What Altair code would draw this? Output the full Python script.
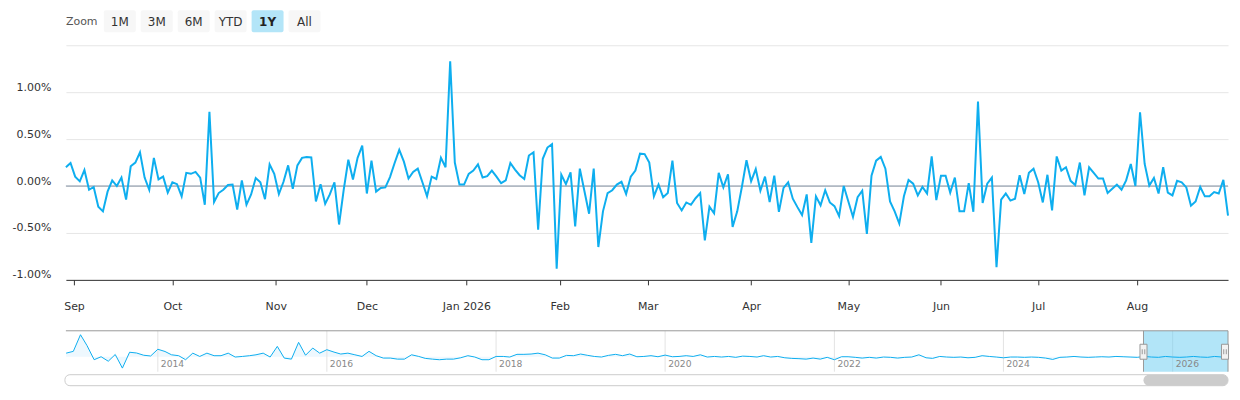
import json
import altair as alt
import pandas as pd

# ---------------- data ----------------
# daily % change, one value per trading day (28 Aug 2025 .. 28 Aug 2026)
values = [
    0.20, 0.245, 0.10, 0.05, 0.17, -0.04, -0.01, -0.22, -0.27, -0.06,
    0.06, 0.00, 0.09, -0.145, 0.21, 0.25, 0.36, 0.09, -0.04, 0.30,
    0.07, 0.10, -0.07, 0.04, 0.02, -0.11, 0.14, 0.13, 0.15, 0.09,
    -0.20, 0.79, -0.17, -0.075, -0.04, 0.01, 0.015, -0.25, 0.06, -0.20,
    -0.09, 0.085, 0.04, -0.14, 0.23, 0.13, -0.085, 0.045, 0.22, -0.03,
    0.22, 0.30, 0.31, 0.305, -0.165, 0.02, -0.19, -0.09, 0.04, -0.41,
    -0.04, 0.28, 0.07, 0.30, 0.43, -0.08, 0.27, -0.06, -0.02, -0.015,
    0.095, 0.245, 0.385, 0.26, 0.08, 0.15, 0.185, 0.04, -0.11, 0.10,
    0.075, 0.30, 0.20, 1.33, 0.25, 0.015, 0.015, 0.13, 0.165, 0.23,
    0.09, 0.105, 0.165, 0.10, 0.03, 0.06, 0.245, 0.175, 0.115, 0.075,
    0.325, 0.36, -0.465, 0.29, 0.41, 0.445, -0.88, 0.12, 0.02, 0.145,
    -0.43, 0.185, -0.055, -0.295, 0.185, -0.65, -0.27, -0.075, -0.045, 0.015,
    0.045, -0.085, 0.10, 0.165, 0.345, 0.34, 0.25, -0.11, 0.015, -0.12,
    -0.075, 0.27, -0.18, -0.26, -0.175, -0.20, -0.13, -0.075, -0.58, -0.22,
    -0.29, 0.14, -0.015, 0.125, -0.435, -0.27, -0.01, 0.275, 0.05, 0.18,
    -0.05, 0.10, -0.17, 0.11, -0.275, -0.02, 0.04, -0.135, -0.225, -0.31,
    -0.09, -0.605, -0.11, -0.205, -0.045, -0.175, -0.215, -0.32, 0.0, -0.165,
    -0.33, -0.12, -0.05, -0.51, 0.11, 0.27, 0.31, 0.185, -0.165, -0.27,
    -0.40, -0.11, 0.065, 0.025, -0.10, -0.01, -0.08, 0.315, -0.15, 0.11,
    0.11, -0.07, 0.09, -0.27, -0.27, 0.03, -0.275, 0.90, -0.18, 0.025,
    0.09, -0.865, -0.145, -0.08, -0.155, -0.135, 0.115, -0.085, 0.14, 0.185,
    0.04, -0.175, 0.12, -0.26, 0.315, 0.165, 0.20, 0.055, 0.01, 0.25,
    -0.10, 0.20, 0.14, 0.08, 0.08, -0.075, -0.03, 0.015, -0.04, 0.06,
    0.235, 0.0, 0.785, 0.235, 0.005, 0.085, -0.08, 0.20, -0.07, -0.10,
    0.055, 0.04, -0.015, -0.21, -0.165, -0.01, -0.11, -0.11, -0.065, -0.08,
    0.065, -0.315,
]

# month ticks on the ordinal (trading-day) axis
month_ticks = [1.75, 23, 45.33, 65, 86.5, 106.67, 125.67, 148, 169, 189, 210, 231.33]
month_labels = ["Sep", "Oct", "Nov", "Dec", "Jan 2026", "Feb", "Mar", "Apr",
                "May", "Jun", "Jul", "Aug"]
y_ticks = [-1.0, -0.5, 0.0, 0.5, 1.0, 1.5]

# navigator: monthly values Dec 2012 .. Aug 2026, plus last day
nav_values = [
    0.24, 0.36, 1.47, 0.75, -0.2, 0.0, -0.3, 0.15, -0.76, 0.3,
    0.25, 0.1, 0.05, 0.5, 0.35, 0.13, 0.07, -0.2, 0.24, 0.02,
    0.24, 0.07, 0.07, 0.24, -0.02, 0.02, 0.07, 0.13, 0.24, -0.02,
    0.69, -0.09, -0.16, 0.96, 0.1, 0.58, 0.24, 0.47, 0.31, 0.18,
    0.24, 0.13, 0.02, 0.36, 0.07, -0.09, -0.09, -0.16, -0.16, 0.13,
    0.02, -0.11, -0.16, -0.2, -0.16, -0.16, -0.07, 0.07, -0.02, -0.2,
    -0.2, 0.02, 0.02, -0.02, 0.16, 0.16, 0.18, 0.24, 0.13, -0.09,
    -0.09, 0.09, 0.07, 0.18, 0.09, 0.02, -0.02, 0.09, 0.16, 0.07,
    0.18, 0.0, 0.02, 0.07, 0.0, 0.11, 0.0, 0.02, 0.07, 0.02,
    0.13, -0.02, 0.02, -0.02, 0.02, -0.04, 0.04, 0.02, -0.02, 0.07,
    -0.02, 0.02, -0.07, -0.11, -0.13, -0.16, -0.09, -0.16, -0.04, -0.2,
    0.0, 0.0, -0.04, -0.09, -0.04, -0.09, -0.02, -0.04, -0.09, -0.04,
    -0.02, 0.13, -0.07, -0.11, 0.02, -0.02, -0.04, -0.02, -0.07, -0.04,
    0.07, 0.02, -0.02, -0.07, -0.02, -0.02, -0.04, -0.02, -0.04, -0.09,
    -0.18, -0.04, -0.02, 0.02, -0.02, -0.04, -0.02, 0.0, -0.02, 0.02,
    0.0, -0.02, -0.04, 0.02, -0.02, -0.04, 0.02, -0.02, -0.04, -0.02,
    0.02, -0.02, -0.04, 0.02, -0.02,
    -0.02,
]
nav_dates = list(pd.date_range("2012-12-01", periods=165, freq="MS")) + [pd.Timestamp("2026-08-28")]
nav_years = [2014, 2016, 2018, 2020, 2022, 2024, 2026]
sel_start = "2025-08-28"
sel_end = "2026-08-28"

buttons = ["1M", "3M", "6M", "YTD", "1Y", "All"]
selected_button = "1Y"

# ---------------- styling ----------------
FONT = "DejaVu Sans"
LINE = "#0eaeef"
W = 1164
H = 235
NAV_H = 41

df = pd.DataFrame({"i": list(range(len(values))), "v": values})

xs = alt.Scale(domain=[0, len(values) - 1], nice=False, zero=False)
ys = alt.Scale(domain=[-1.0, 1.5], nice=False, zero=False)

x_label_expr = "{}[indexof({}, datum.value)]".format(json.dumps(month_labels), json.dumps(month_ticks))
y_label_expr = ("datum.value > 1.4 ? '' : (datum.value < 0 ? '-' : '') + "
                "format(abs(datum.value), '.2f') + '%'")

zero_rule = alt.Chart(pd.DataFrame({"z": [0.0]})).mark_rule(
    color="#7f8fa0", strokeWidth=1
).encode(y=alt.Y("z:Q", scale=ys))

line = alt.Chart(df).mark_line(color=LINE, strokeWidth=2).encode(
    x=alt.X("i:Q", scale=xs, title=None, axis=alt.Axis(
        values=month_ticks, labelExpr=x_label_expr, grid=False,
        domainColor="#333333", tickColor="#333333", tickSize=5,
        labelColor="#333333", labelFont=FONT, labelFontSize=11,
        labelPadding=22, labelBaseline="middle", labelFlush=False,
        labelOverlap=False)),
    y=alt.Y("v:Q", scale=ys, title=None, axis=alt.Axis(
        values=y_ticks, labelExpr=y_label_expr, grid=True, gridColor="#e6e6e6",
        domain=False, ticks=False, tickSize=0, labelPadding=15, labelOffset=-5,
        labelBaseline="middle", labelColor="#333333", labelFont=FONT,
        labelFontSize=11, labelOverlap=False)),
)

# range selector
btn_df = pd.DataFrame({"lab": buttons, "k": list(range(len(buttons)))})
btn_base = alt.Chart(btn_df).transform_calculate(
    bx="38 + 37 * datum.k", bx2="38 + 37 * datum.k + 32", bc="38 + 37 * datum.k + 16"
)
btn_rect = btn_base.mark_rect(cornerRadius=2).encode(
    x=alt.X("bx:Q", scale=None, axis=None),
    x2="bx2:Q",
    y=alt.value(-35), y2=alt.value(-13),
    color=alt.condition(alt.datum.lab == selected_button, alt.value("#b3e5f8"), alt.value("#f7f7f7")),
)
btn_text = btn_base.transform_filter(alt.datum.lab != selected_button).mark_text(
    font=FONT, fontSize=12, color="#333333", align="center", baseline="middle"
).encode(x=alt.X("bc:Q", scale=None, axis=None), y=alt.value(-23.5), text="lab:N")
btn_text_sel = btn_base.transform_filter(alt.datum.lab == selected_button).mark_text(
    font=FONT, fontSize=12, color="#222222", fontWeight="bold", align="center", baseline="middle"
).encode(x=alt.X("bc:Q", scale=None, axis=None), y=alt.value(-23.5), text="lab:N")
zoom_lbl = alt.Chart(pd.DataFrame({"t": ["Zoom"]})).mark_text(
    font=FONT, fontSize=11, color="#555555", align="left", baseline="middle"
).encode(x=alt.value(0), y=alt.value(-23.5), text="t:N")

anchor = alt.Chart(pd.DataFrame({"a": [0]})).mark_rect(opacity=0).encode(
    x=alt.value(-58), x2=alt.value(-57), y=alt.value(-37), y2=alt.value(-36)
)

top = alt.layer(anchor, zero_rule, line, btn_rect, btn_text, btn_text_sel, zoom_lbl).properties(
    width=W, height=H
)

# ---------------- navigator ----------------
nav_df = pd.DataFrame({"d": nav_dates, "v": nav_values})
nxs = alt.Scale(domain=[alt.DateTime(year=2012, month=11, date=30),
                        alt.DateTime(year=2026, month=8, date=28)], nice=False)
nys = alt.Scale(domain=[-1.0, 1.733], nice=False, zero=False)

yr_df = pd.DataFrame({"d": [pd.Timestamp(f"{y}-01-01") for y in nav_years],
                      "t": [str(y) for y in nav_years]})
sel_df = pd.DataFrame({"s": [pd.Timestamp(sel_start)], "e": [pd.Timestamp(sel_end)]})

nav_area = alt.Chart(nav_df).mark_area(color="#eef8fe").encode(
    x=alt.X("d:T", scale=nxs, axis=None), y=alt.Y("v:Q", scale=nys, axis=None),
    y2=alt.value(NAV_H),
)
nav_grid = alt.Chart(yr_df).mark_rule(color="#e3e3e3", strokeWidth=1).encode(
    x=alt.X("d:T", scale=nxs, axis=None), y=alt.value(0), y2=alt.value(NAV_H)
)
nav_sel = alt.Chart(sel_df).mark_rect(color="#66ccf2", opacity=0.5).encode(
    x=alt.X("s:T", scale=nxs, axis=None), x2="e:T", y=alt.value(0), y2=alt.value(NAV_H)
)
nav_line = alt.Chart(nav_df).mark_line(color=LINE, strokeWidth=1).encode(
    x=alt.X("d:T", scale=nxs, axis=None), y=alt.Y("v:Q", scale=nys, axis=None)
)
nav_lbl = alt.Chart(yr_df).mark_text(
    font=FONT, fontSize=9.2, color="#888888", align="left", baseline="middle", dx=3
).encode(x=alt.X("d:T", scale=nxs, axis=None), y=alt.value(33), text="t:N")
nav_top = alt.Chart(pd.DataFrame({"a": [0]})).mark_rule(color="#999999", strokeWidth=1).encode(
    x=alt.value(0), x2=alt.value(W), y=alt.value(0)
)
nav_sides = alt.Chart(sel_df).transform_fold(["s", "e"], as_=["k", "d"]).mark_rule(
    color="#999999", strokeWidth=1
).encode(x=alt.X("d:T", scale=nxs, axis=None), y=alt.value(0), y2=alt.value(NAV_H))

handle_shape = ("M-0.47,-1H0.47V1H-0.47Z"
                "M-0.17,-0.33V0.33M0.17,-0.33V0.33")
h_left = alt.Chart(sel_df).mark_point(
    shape=handle_shape, size=225, filled=False, fill="#f2f2f2", stroke="#999999",
    strokeWidth=1, opacity=1
).encode(x=alt.X("s:T", scale=nxs, axis=None), y=alt.value(21))
h_right = alt.Chart(sel_df).mark_point(
    shape=handle_shape, size=225, filled=False, fill="#f2f2f2", stroke="#999999",
    strokeWidth=1, opacity=1, xOffset=-3
).encode(x=alt.X("e:T", scale=nxs, axis=None), y=alt.value(21))

track = alt.Chart(pd.DataFrame({"a": [0]})).mark_rect(
    fill="#ffffff", stroke="#cccccc", strokeWidth=1, cornerRadius=5
).encode(x=alt.value(-1), x2=alt.value(W), y=alt.value(44), y2=alt.value(55))
thumb = alt.Chart(sel_df).mark_rect(fill="#cccccc", cornerRadius=5.5).encode(
    x=alt.X("s:T", scale=nxs, axis=None), x2="e:T", y=alt.value(44), y2=alt.value(55)
)

nav = alt.layer(nav_area, nav_grid, nav_sel, nav_line, nav_lbl, nav_top, nav_sides,
                h_left, h_right, track, thumb).properties(width=W, height=NAV_H)

chart = alt.vconcat(top, nav, spacing=51, bounds="flush").properties(
    padding=0
).configure_view(stroke=None)

chart.save("out.html", embed_options={"renderer": "svg", "actions": False})
